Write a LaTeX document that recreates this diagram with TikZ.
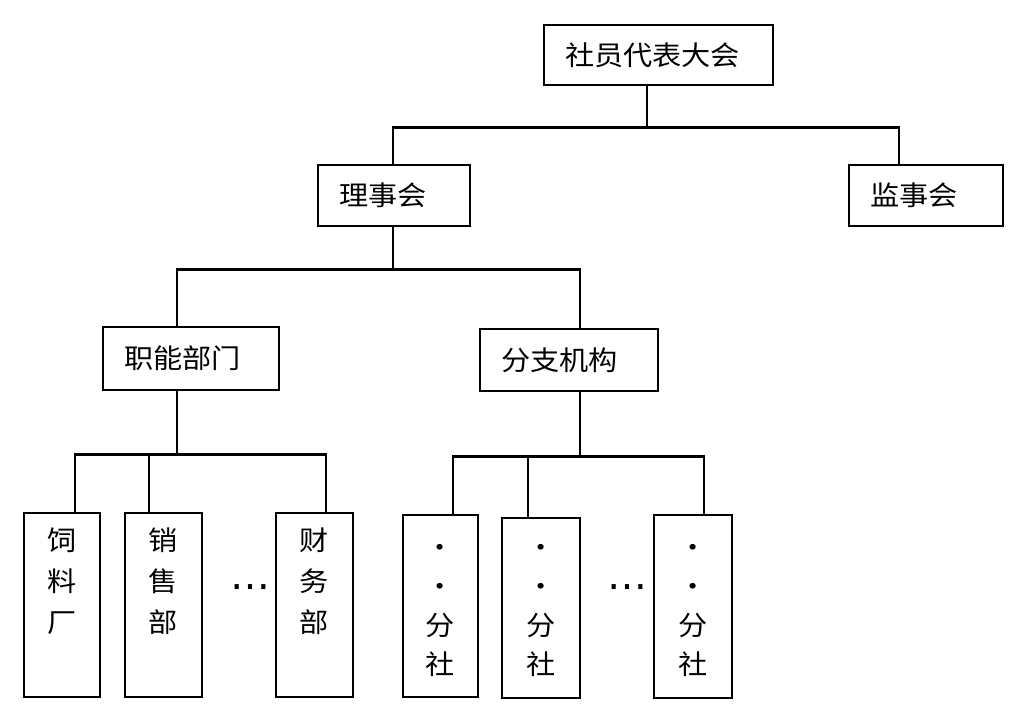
\documentclass[tikz,border=0pt]{standalone}
\usepackage{fontspec}
\newfontfamily\cjk[FakeStretch=1.08]{Noto Sans CJK SC}
\newfontfamily\dvs{DejaVu Sans}
\begin{document}
\begin{tikzpicture}[x=1pt,y=-1pt,
  every node/.style={line width=2.5pt},
  hbox/.style={draw, inner xsep=21pt, inner ysep=0pt, align=left,
    font=\cjk\fontsize{27}{34}\selectfont},
  vbox/.style={draw, inner sep=0pt},
  vtext/.style={anchor=north, inner sep=0pt, align=center,
    font=\cjk\fontsize{27}{41}\selectfont},
  vtextb/.style={anchor=north, inner sep=0pt, align=center,
    font=\cjk\fontsize{27}{39}\selectfont},
  dots/.style={inner sep=0pt, font=\dvs\fontsize{40}{40}\selectfont},
  conn/.style={line width=2.5pt, line join=miter}
]
\useasboundingbox (0,0) rectangle (1023,728);

% upper boxes
\node[hbox, text width=187pt, minimum height=60pt] (top) at (658.5,55) {社员代表大会};
\node[hbox, text width=110pt, minimum height=61pt] (lsh) at (394,195.5) {理事会};
\node[hbox, text width=112pt, minimum height=61pt] (jsh) at (926,195.5) {监事会};
\node[hbox, text width=134pt, minimum height=63pt] (znbm) at (191,358.5) {职能部门};
\node[hbox, text width=136pt, minimum height=62pt] (fzjg) at (569,360) {分支机构};

% lower boxes
\node[vbox, minimum width=76pt, minimum height=184pt] (slc) at (62,605) {};
\node[vbox, minimum width=77pt, minimum height=184pt] (xsb) at (163.5,605) {};
\node[vbox, minimum width=77pt, minimum height=184pt] (cwb) at (314.5,605) {};
\node[vbox, minimum width=75pt, minimum height=182pt] (fs1) at (440.5,606) {};
\node[vbox, minimum width=78pt, minimum height=180pt] (fs2) at (541,608) {};
\node[vbox, minimum width=78pt, minimum height=183pt] (fs3) at (693,606.5) {};

\node[vtext] (slc-t) at ([yshift=-14.6pt]slc.north) {\vphantom{社}饲\\料\\厂};
\node[vtext] (xsb-t) at ([yshift=-14.6pt]xsb.north) {\vphantom{社}销\\售\\部};
\node[vtext] (cwb-t) at ([yshift=-14.6pt]cwb.north) {\vphantom{社}财\\务\\部};
\node[vtextb] (fs1-t) at ([yshift=-19.6pt]fs1.north) {\vphantom{社}・\\・\\分\\社};
\node[vtextb] (fs2-t) at ([yshift=-16.6pt]fs2.north) {\vphantom{社}・\\・\\分\\社};
\node[vtextb] (fs3-t) at ([yshift=-19.6pt]fs3.north) {\vphantom{社}・\\・\\分\\社};

\node[dots] (d1) at (250.5,592) {⋯};
\node[dots] (d2) at (627.5,592) {⋯};

% connectors
\draw[conn] ([xshift=-11.5pt]top.south) -- ++(0,41) -| ([xshift=-1pt]lsh.north);
\draw[conn] ([xshift=-11.5pt]top.south) -- ++(0,41) -| ([xshift=-27pt]jsh.north);

\draw[conn] ([xshift=-1pt]lsh.south) -- ++(0,42) -| ([xshift=-14pt]znbm.north);
\draw[conn] ([xshift=-1pt]lsh.south) -- ++(0,42) -| ([xshift=11pt]fzjg.north);

\draw[conn] ([xshift=-14pt]znbm.south) -- ++(0,63) -| ([xshift=13pt]slc.north);
\draw[conn] ([xshift=-14pt]znbm.south) -- ++(0,63) -| ([xshift=-14.5pt]xsb.north);
\draw[conn] ([xshift=-14pt]znbm.south) -- ++(0,63) -| ([xshift=11.5pt]cwb.north);

\draw[conn] ([xshift=11pt]fzjg.south) -- ++(0,64) -| ([xshift=12.5pt]fs1.north);
\draw[conn] ([xshift=11pt]fzjg.south) -- ++(0,64) -| ([xshift=-13pt]fs2.north);
\draw[conn] ([xshift=11pt]fzjg.south) -- ++(0,64) -| ([xshift=11pt]fs3.north);
\end{tikzpicture}
\end{document}
